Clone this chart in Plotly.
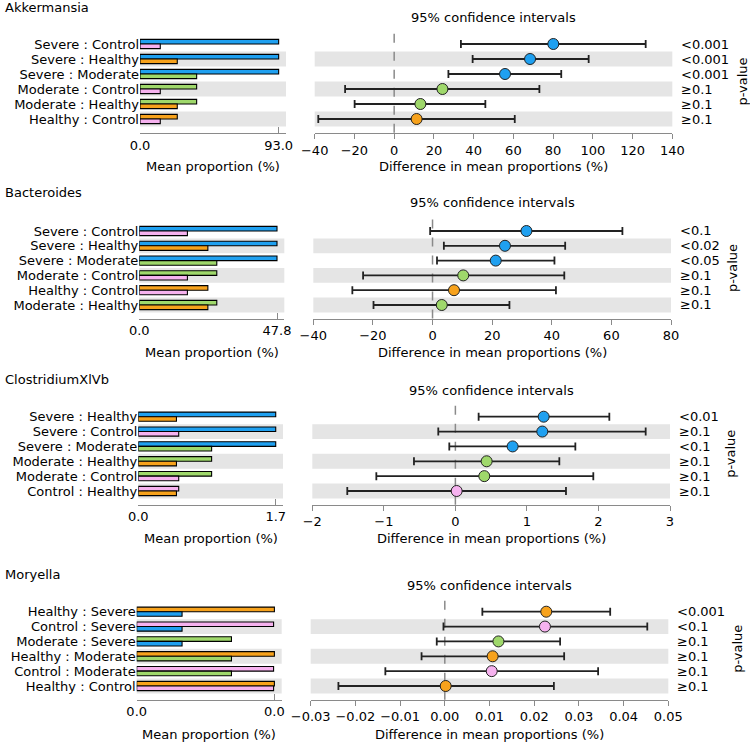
import plotly.graph_objects as go

W, H = 750, 744
FONT = "DejaVu Sans"

GROUP_COLORS = {"Severe": "#1fa0f0", "Moderate": "#9fd86b", "Healthy": "#f7a21c", "Control": "#f6b2ef"}

# ---------------- data ----------------
akk_name = "Akkermansia"
akk_first = ["Severe", "Severe", "Severe", "Moderate", "Moderate", "Healthy"]
akk_second = ["Control", "Healthy", "Moderate", "Control", "Healthy", "Control"]
akk_groups = ["Severe", "Moderate", "Healthy", "Control"]
akk_means = [93.0, 38.0, 25.0, 13.6]
akk_diff = [80.1, 68.4, 55.8, 24.3, 13.2, 11.3]
akk_lo = [33.6, 39.5, 27.3, -24.7, -19.9, -38.2]
akk_hi = [126.6, 97.9, 84.1, 73.1, 45.9, 60.7]
akk_p = ["<0.001", "<0.001", "<0.001", "≥0.1", "≥0.1", "≥0.1"]

bac_name = "Bacteroides"
bac_first = ["Severe", "Severe", "Severe", "Moderate", "Healthy", "Moderate"]
bac_second = ["Control", "Healthy", "Moderate", "Control", "Control", "Healthy"]
bac_groups = ["Severe", "Moderate", "Healthy", "Control"]
bac_means = [47.8, 26.9, 23.8, 16.7]
bac_diff = [31.5, 24.3, 21.2, 10.3, 7.2, 3.1]
bac_lo = [-0.8, 3.8, 1.5, -23.3, -26.9, -19.8]
bac_hi = [63.7, 44.5, 40.9, 44.2, 41.4, 25.8]
bac_p = ["<0.1", "<0.02", "<0.05", "≥0.1", "≥0.1", "≥0.1"]

clo_name = "ClostridiumXlVb"
clo_first = ["Severe", "Severe", "Severe", "Moderate", "Moderate", "Control"]
clo_second = ["Healthy", "Control", "Moderate", "Healthy", "Control", "Healthy"]
clo_groups = ["Severe", "Moderate", "Healthy", "Control"]
clo_means = [1.7, 0.907, 0.472, 0.50]
clo_diff = [1.234, 1.215, 0.80, 0.437, 0.404, 0.018]
clo_lo = [0.325, -0.239, -0.085, -0.579, -1.105, -1.511]
clo_hi = [2.152, 2.66, 1.677, 1.453, 1.928, 1.546]
clo_p = ["<0.01", "≥0.1", "<0.1", "≥0.1", "≥0.1", "≥0.1"]

mor_name = "Moryella"
mor_first = ["Healthy", "Control", "Moderate", "Healthy", "Control", "Healthy"]
mor_second = ["Severe", "Severe", "Severe", "Moderate", "Moderate", "Control"]
mor_groups = ["Severe", "Moderate", "Healthy", "Control"]
mor_means = [0.0112, 0.0234, 0.0340, 0.0338]
mor_diff = [0.0227, 0.0224, 0.0120, 0.0107, 0.0105, 0.0002]
mor_lo = [0.0084, -0.0003, -0.0018, -0.0052, -0.0133, -0.0238]
mor_hi = [0.0370, 0.0453, 0.0258, 0.0267, 0.0343, 0.0244]
mor_p = ["<0.001", "<0.1", "≥0.1", "≥0.1", "≥0.1", "≥0.1"]

panels = [
    dict(name=akk_name, first=akk_first, second=akk_second, groups=akk_groups, means=akk_means,
         diff=akk_diff, lo=akk_lo, hi=akk_hi, p=akk_p, ci_range=[-40, 140], dtick=20, fmt="d"),
    dict(name=bac_name, first=bac_first, second=bac_second, groups=bac_groups, means=bac_means,
         diff=bac_diff, lo=bac_lo, hi=bac_hi, p=bac_p, ci_range=[-40, 80], dtick=20, fmt="d"),
    dict(name=clo_name, first=clo_first, second=clo_second, groups=clo_groups, means=clo_means,
         diff=clo_diff, lo=clo_lo, hi=clo_hi, p=clo_p, ci_range=[-2, 3], dtick=1, fmt="d"),
    dict(name=mor_name, first=mor_first, second=mor_second, groups=mor_groups, means=mor_means,
         diff=mor_diff, lo=mor_lo, hi=mor_hi, p=mor_p, ci_range=[-0.03, 0.05], dtick=0.01, fmt=".2f"),
]

# ---------------- layout geometry (pixels) ----------------
geom = [
    dict(title_y=8, conf_y=18, row1=44, row6=119, bar_x=(140, 286), ci_x=(314.7, 672.3), xt_y=166, pv_x=742),
    dict(title_y=192, conf_y=203, row1=231, row6=305, bar_x=(139.3, 284.3), ci_x=(313.3, 671), xt_y=352, pv_x=732),
    dict(title_y=379, conf_y=390, row1=416.7, row6=491, bar_x=(138.3, 283), ci_x=(312.3, 670), xt_y=538, pv_x=731),
    dict(title_y=574, conf_y=585, row1=611.7, row6=686, bar_x=(136.7, 281.7), ci_x=(310.7, 668.3), xt_y=734, pv_x=738),
]


def px(x):
    return x / W


def py(y):
    return 1 - y / H


def ax_id(n):
    return "" if n == 1 else str(n)


fig = go.Figure()
shapes = []
annotations = []
layout = {}
TOP_PAD, BOT_PAD = 0.95, 0.92

for k, (pn, g) in enumerate(zip(panels, geom)):
    nb = ax_id(2 * k + 1)
    nc = ax_id(2 * k + 2)
    n = len(pn["first"])
    step = (g["row6"] - g["row1"]) / (n - 1)
    ytop = g["row1"] - TOP_PAD * step
    ybot = g["row6"] + BOT_PAD * step
    ydom = [py(ybot), py(ytop)]
    yrange = [n - 1 + BOT_PAD, -TOP_PAD]
    mean_of = dict(zip(pn["groups"], pn["means"]))
    maxv = max(pn["means"])
    rows = list(range(n))
    labels = [f"{a} : {b}" for a, b in zip(pn["first"], pn["second"])]

    # bar plot
    fig.add_trace(go.Bar(
        x=[mean_of[a] for a in pn["first"]], y=[i - 0.155 for i in rows], width=0.31,
        orientation="h", marker=dict(color=[GROUP_COLORS[a] for a in pn["first"]],
                                     line=dict(color="black", width=1.1)),
        xaxis=f"x{nb}", yaxis=f"y{nb}", hoverinfo="skip"))
    fig.add_trace(go.Bar(
        x=[mean_of[b] for b in pn["second"]], y=[i + 0.155 for i in rows], width=0.31,
        orientation="h", marker=dict(color=[GROUP_COLORS[b] for b in pn["second"]],
                                     line=dict(color="black", width=1.1)),
        xaxis=f"x{nb}", yaxis=f"y{nb}", hoverinfo="skip"))

    # CI plot
    fig.add_trace(go.Scatter(
        x=pn["diff"], y=rows, mode="markers",
        marker=dict(size=11, color=[GROUP_COLORS[a] for a in pn["first"]],
                    line=dict(color="#222", width=1)),
        error_x=dict(type="data", symmetric=False,
                     array=[h - d for h, d in zip(pn["hi"], pn["diff"])],
                     arrayminus=[d - l for d, l in zip(pn["diff"], pn["lo"])],
                     color="#222", thickness=1.8, width=4),
        xaxis=f"x{nc}", yaxis=f"y{nc}", hoverinfo="skip"))

    layout[f"xaxis{nb}"] = dict(
        domain=[px(g["bar_x"][0]), px(g["bar_x"][1])], anchor=f"y{nb}", automargin=False,
        range=[0, maxv * 1.053], tickvals=[0, maxv], ticktext=["0.0", f"{maxv:.1f}"],
        showline=True, linecolor="#8a8a8a", linewidth=1.2, ticks="inside", ticklen=6,
        tickcolor="#8a8a8a", showgrid=False, zeroline=False,
        tickfont=dict(family=FONT, size=13, color="black"))
    layout[f"yaxis{nb}"] = dict(
        domain=ydom, anchor=f"x{nb}", range=yrange, tickvals=rows, ticktext=labels,
        automargin=False, showline=False, ticks="", showgrid=False, zeroline=False,
        tickfont=dict(family=FONT, size=13, color="black"))
    layout[f"xaxis{nc}"] = dict(
        domain=[px(g["ci_x"][0]), px(g["ci_x"][1])], anchor=f"y{nc}", automargin=False,
        range=pn["ci_range"], dtick=pn["dtick"], tick0=pn["ci_range"][0],
        tickformat=pn["fmt"], showline=True, linecolor="#8a8a8a", linewidth=1.2,
        ticks="outside", ticklen=5, tickcolor="#8a8a8a", showgrid=False, zeroline=False,
        tickfont=dict(family=FONT, size=13, color="black"))
    layout[f"yaxis{nc}"] = dict(
        domain=ydom, anchor=f"x{nc}", range=yrange, showticklabels=False, automargin=False,
        showline=False, ticks="", showgrid=False, zeroline=False)

    # bands
    for i in rows:
        if i % 2 == 1:
            for ax in (nb, nc):
                shapes.append(dict(type="rect", xref=f"x{ax} domain", yref=f"y{ax}",
                                   x0=0, x1=1, y0=i - 0.5, y1=i + 0.5,
                                   fillcolor="#e5e5e5", line=dict(width=0), layer="below"))
    # zero line
    shapes.append(dict(type="line", xref=f"x{nc}", yref=f"y{nc} domain", x0=0, x1=0, y0=0, y1=1,
                       line=dict(color="#8a8a8a", width=1.5, dash="dash"), layer="below"))

    # texts
    annotations.append(dict(text=pn["name"], x=px(3), y=py(g["title_y"]), xref="paper", yref="paper",
                            xanchor="left", yanchor="middle", showarrow=False,
                            font=dict(family=FONT, size=13, color="black")))
    ci_mid = (g["ci_x"][0] + g["ci_x"][1]) / 2
    bar_mid = (g["bar_x"][0] + g["bar_x"][1]) / 2
    annotations.append(dict(text="95% confidence intervals", x=px(ci_mid), y=py(g["conf_y"]),
                            xref="paper", yref="paper", xanchor="center", yanchor="middle",
                            showarrow=False, font=dict(family=FONT, size=13, color="black")))
    annotations.append(dict(text="Mean proportion (%)", x=px(bar_mid), y=py(g["xt_y"]),
                            xref="paper", yref="paper", xanchor="center", yanchor="middle",
                            showarrow=False, font=dict(family=FONT, size=13, color="black")))
    annotations.append(dict(text="Difference in mean proportions (%)", x=px(ci_mid), y=py(g["xt_y"]),
                            xref="paper", yref="paper", xanchor="center", yanchor="middle",
                            showarrow=False, font=dict(family=FONT, size=13, color="black")))
    for i, pv in zip(rows, pn["p"]):
        annotations.append(dict(text=pv, x=px(g["ci_x"][1] + 7), y=i, xref="paper", yref=f"y{nc}",
                                xanchor="left", yanchor="middle", showarrow=False,
                                font=dict(family=FONT, size=13, color="black")))
    annotations.append(dict(text="p-value", x=px(g["pv_x"]), y=py((g["row1"] + g["row6"]) / 2),
                            xref="paper", yref="paper", xanchor="center", yanchor="middle",
                            textangle=-90, showarrow=False,
                            font=dict(family=FONT, size=13, color="black")))

fig.update_layout(
    width=W, height=H, margin=dict(l=0, r=0, t=0, b=0, autoexpand=False),
    paper_bgcolor="white", plot_bgcolor="white", showlegend=False,
    barmode="overlay", shapes=shapes, annotations=annotations,
    font=dict(family=FONT, size=13, color="black"),
    **layout)

fig.write_html(
    "out.html",
    config={"displayModeBar": False},
    post_script="document.body.style.margin='0px';document.body.style.overflow='hidden';",
)
